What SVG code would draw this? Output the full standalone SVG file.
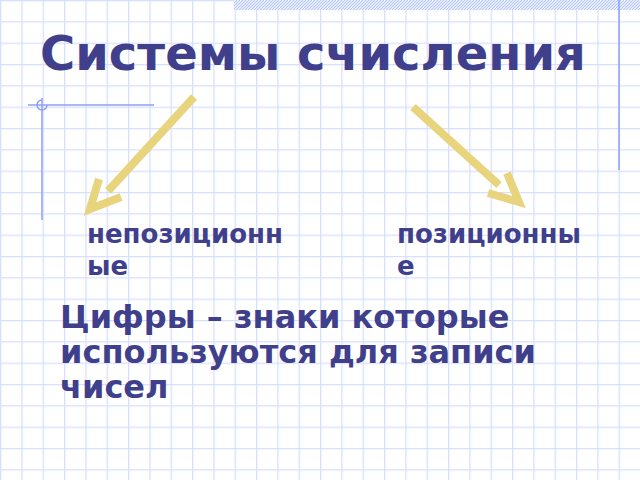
<svg xmlns="http://www.w3.org/2000/svg" width="640" height="480" viewBox="0 0 640 480">
  <defs>
    <pattern id="grid" width="21.333" height="21.333" patternUnits="userSpaceOnUse">
      <path d="M0 0.5 H21.333 M0.5 0 V21.333" fill="none" stroke="#d6dfff" stroke-width="1.5"/>
    </pattern>
    <pattern id="hatch" width="3" height="3" patternUnits="userSpaceOnUse">
      <rect width="3" height="3" fill="#e4ebff"/>
      <path d="M0 3 L3 0" stroke="#b8c8f4" stroke-width="1"/>
    </pattern>
    <style>
      .t { font-family: "DejaVu Sans", Verdana, sans-serif; font-weight: bold; fill: #3f3f8c; }
      .arr { fill: none; stroke: #e8d47c; stroke-width: 8; stroke-linecap: butt; stroke-linejoin: miter; }
      .deco { fill: none; stroke: #8ea0f4; stroke-width: 1.5; }
    </style>
  </defs>
  <rect width="640" height="480" fill="#ffffff"/>
  <rect x="-0.75" y="-0.75" width="641" height="481" fill="url(#grid)"/>
  <rect x="234" y="0" width="406" height="10" fill="url(#hatch)"/>
  <g id="decoration">
    <line class="deco" x1="619" y1="0" x2="619" y2="170"/>
    <line class="deco" x1="28" y1="105" x2="154" y2="105"/>
    <line class="deco" x1="42" y1="98" x2="42" y2="220"/>
    <path class="deco" d="M42 100 A5 5 0 1 0 47 105"/>
  </g>
  <g id="title">
    <text class="t" x="40" y="70" font-size="48">Системы счисления</text>
  </g>
  <g id="connectors">
    <line class="arr" x1="194" y1="97" x2="108" y2="191"/>
    <polyline class="arr" points="99,179 90,209 121,197"/>
    <line class="arr" x1="413" y1="107" x2="499" y2="185"/>
    <polyline class="arr" points="507,173 519,202 488,193"/>
  </g>
  <g id="nonpositional">
    <text class="t" x="87" y="243" font-size="26">непозиционн</text>
    <text class="t" x="87" y="275" font-size="26">ые</text>
  </g>
  <g id="positional">
    <text class="t" x="397" y="243" font-size="26">позиционны</text>
    <text class="t" x="397" y="275" font-size="26">е</text>
  </g>
  <g id="definition">
    <text class="t" x="60" y="328" font-size="32">Цифры – знаки которые</text>
    <text class="t" x="60" y="363" font-size="32">используются для записи</text>
    <text class="t" x="60" y="398" font-size="32">чисел</text>
  </g>
</svg>
